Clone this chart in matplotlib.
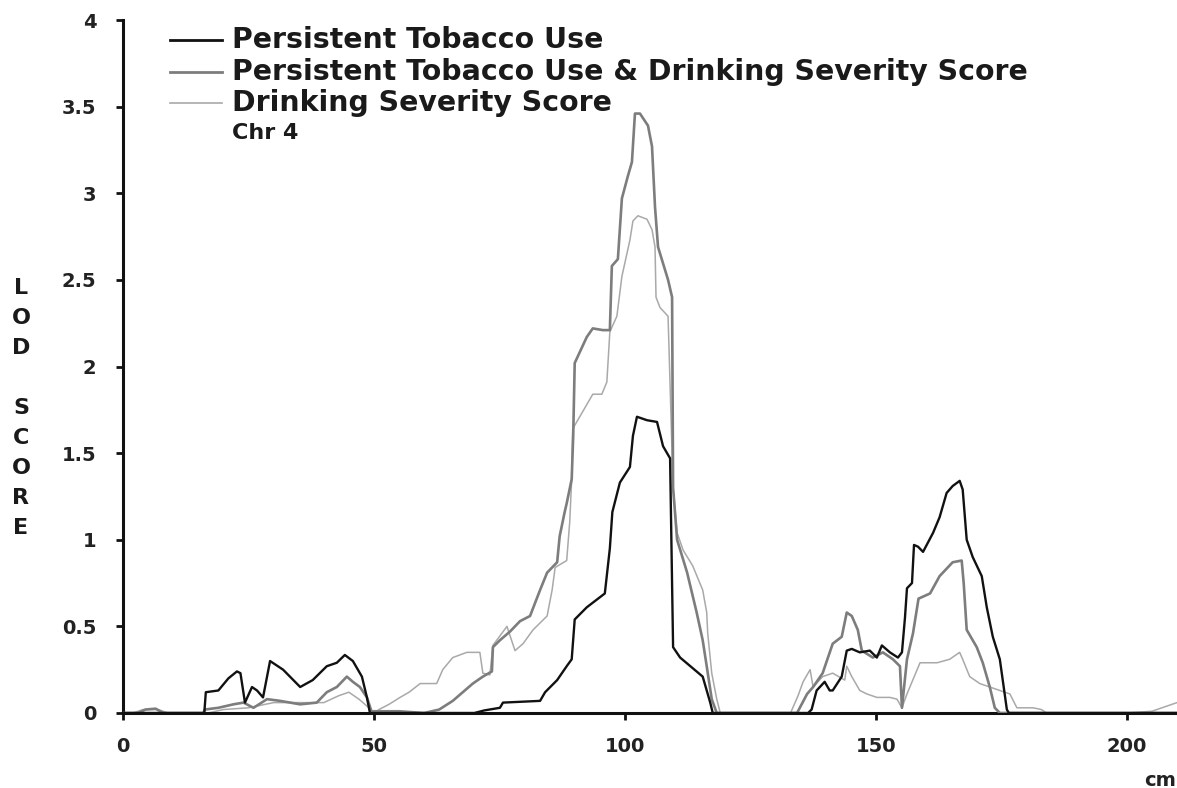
import matplotlib
matplotlib.use("Agg")
import matplotlib.pyplot as plt
from matplotlib.lines import Line2D

# LOD score profiles along chromosome 4 (position in cM)
ptu_x = [0, 16.2, 16.5, 19, 21, 22.7, 23.4, 24.3, 25.7, 26.7, 27.9, 29.3,
         31.9, 35.3, 37.8, 40.6, 42.6, 44.2, 45.8, 47.6, 48.6, 49.2,
         70, 72, 75.1, 75.7, 83.1, 84.1, 86.5, 88.4, 89.4, 90.0, 92.4,
         96.0, 97.0, 97.5, 99, 101, 101.6, 102.4, 104.4, 106.4, 107.6,
         109, 109.6, 111, 115.5, 117, 117.5,
         136.5, 137.2, 138.2, 139.8, 140.8, 141.4, 143.2, 144.2, 145.2,
         146.8, 148.8, 150.2, 151.2, 152.8, 154.4, 155.2, 155.8, 156.2,
         157.2, 157.6, 158.4, 159.4, 161.4, 162.7, 164.1, 165.3, 166.7,
         167.3, 168.1, 169.3, 171.1, 172.1, 173.3, 174.7, 176.1, 176.5, 210]
ptu_y = [0, 0, 0.12, 0.13, 0.2, 0.24, 0.23, 0.06, 0.15, 0.13, 0.09, 0.3,
         0.25, 0.15, 0.19, 0.27, 0.29, 0.335, 0.3, 0.21, 0.09, 0,
         0, 0.015, 0.03, 0.06, 0.07, 0.12, 0.19, 0.27, 0.31, 0.54, 0.61,
         0.69, 0.95, 1.16, 1.33, 1.42, 1.6, 1.71, 1.69, 1.68, 1.54,
         1.47, 0.38, 0.32, 0.21, 0.06, 0,
         0, 0.02, 0.13, 0.18, 0.13, 0.13, 0.21, 0.36, 0.37,
         0.35, 0.36, 0.32, 0.39, 0.35, 0.32, 0.35, 0.55, 0.72,
         0.75, 0.97, 0.96, 0.93, 1.04, 1.13, 1.27, 1.31, 1.34,
         1.29, 1.0, 0.9, 0.79, 0.61, 0.44, 0.31, 0.02, 0, 0]

both_x = [0, 3, 4.5, 6.5, 8, 16, 16.3, 19, 22, 24, 26, 28.7, 31.3, 35.3,
          38.6, 40.6, 42.6, 44.6, 45.8, 47.2, 48.6, 49.5, 55, 60, 63,
          65.7, 69.7, 71.7, 73.5, 73.7, 75.1, 77.1, 79.1, 81.1, 83.1, 84.5,
          86.5, 87, 88, 88.4, 89.4, 89.7, 90, 92.4, 93.6, 95.6, 97, 97.4,
          98.6, 99.4, 100.6, 101.4, 102, 103, 104.6, 105.4, 106, 106.6,
          108.6, 109.4, 109.6, 110.4, 112.4, 114.3, 115.5, 116.3, 117.3,
          118.3, 134.3, 136.3, 137.5, 139.4, 141.4, 143.2, 144.2, 145.2,
          146.4, 147.2, 149.4, 151.4, 153.4, 154.8, 155.2, 156.2, 157.4,
          158.5, 160.8, 162.7, 165.3, 167.1, 167.5, 168.1, 170.1, 171.3,
          172.7, 173.7, 174.7, 210]
both_y = [0, 0, 0.02, 0.025, 0, 0, 0.02, 0.03, 0.05, 0.06, 0.03, 0.08, 0.07, 0.05,
          0.06, 0.12, 0.15, 0.21, 0.18, 0.15, 0.09, 0.01, 0.01, 0.0, 0.02,
          0.07, 0.17, 0.21, 0.24, 0.38, 0.42, 0.47, 0.53, 0.56, 0.71, 0.81,
          0.87, 1.02, 1.16, 1.21, 1.35, 1.6, 2.02, 2.17, 2.22, 2.21, 2.21, 2.58,
          2.62, 2.97, 3.1, 3.18, 3.46, 3.46, 3.39, 3.27, 2.92, 2.69,
          2.5, 2.4, 1.3, 1.0, 0.81, 0.58, 0.42, 0.27, 0.08,
          0, 0, 0.11, 0.15, 0.23, 0.4, 0.44, 0.58, 0.56,
          0.48, 0.36, 0.32, 0.35, 0.31, 0.27, 0.03, 0.31, 0.46,
          0.66, 0.69, 0.79, 0.87, 0.88, 0.75, 0.48, 0.38, 0.29,
          0.15, 0.03, 0, 0]

dss_x = [0, 2, 4, 7, 9, 17, 20, 25, 30, 35, 40, 43, 45, 47, 49, 50, 51, 53,
         55.2, 57, 59.2, 62.5, 63.7, 65.7, 68.5, 71.1, 71.7, 73.1, 73.7,
         76.5, 78.1, 79.7, 81.7, 84.5, 85.5, 86.1, 88.4, 89, 89.4, 89.6,
         93, 93.6, 95.4, 96.4, 97, 98.4, 99.4, 101, 101.6, 102.6, 104.4,
         105.4, 106, 106.2, 107, 108.6, 109.6, 110.4, 111.6, 113.5, 115.5,
         116.3, 116.5, 117.3, 118.3, 119, 133, 134.5, 135.5, 136.9, 137.5,
         139.4, 141.4, 143.8, 144.2, 145.2, 146.8, 148.2, 150.2, 152.8,
         154.2, 155.2, 156.2, 157.5, 158.8, 162.2, 164.7, 166.7, 167.3,
         168.7, 170.7, 172.7, 174.7, 176.7, 178.1, 181.3, 183, 184, 200,
         205, 210]
dss_y = [0, 0, 0.02, 0.02, 0, 0, 0.02, 0.03, 0.06, 0.06, 0.06, 0.1, 0.12, 0.08, 0.03, 0, 0.02, 0.05,
         0.09, 0.12, 0.17, 0.17, 0.25, 0.32, 0.35, 0.35, 0.23, 0.22, 0.39,
         0.5, 0.36, 0.4, 0.48, 0.56, 0.71, 0.84, 0.88, 1.1, 1.35, 1.64,
         1.81, 1.84, 1.84, 1.91, 2.2, 2.29, 2.52, 2.73, 2.84, 2.87, 2.85,
         2.79, 2.69, 2.4, 2.34, 2.29, 1.3, 1.04, 0.94, 0.85, 0.71,
         0.58, 0.46, 0.23, 0.08, 0, 0, 0.1, 0.18, 0.25, 0.15,
         0.21, 0.23, 0.19, 0.27, 0.21, 0.13, 0.11, 0.09, 0.09,
         0.08, 0.03, 0.11, 0.2, 0.29, 0.29, 0.31, 0.35, 0.31,
         0.21, 0.17, 0.15, 0.13, 0.11, 0.03, 0.03, 0.02, 0, 0,
         0.01, 0.06]

series_labels = ["Persistent Tobacco Use",
                 "Persistent Tobacco Use & Drinking Severity Score",
                 "Drinking Severity Score"]
y_ticks = [0, 0.5, 1, 1.5, 2, 2.5, 3, 3.5, 4]
y_tick_labels = ["0", "0.5", "1", "1.5", "2", "2.5", "3", "3.5", "4"]
x_ticks = [0, 50, 100, 150, 200]

W, H = 1177, 788
BLACK = "#111111"
MID = "#7d7d7d"
LIGHT = "#a9a9a9"

fig = plt.figure(figsize=(W / 100, H / 100), dpi=100)
ax = fig.add_axes([123 / W, 1 - 713 / H, (W - 123) / W, (713 - 20) / H])

ax.plot(dss_x, dss_y, color=LIGHT, lw=1.1, zorder=2)
ax.plot(both_x, both_y, color=MID, lw=1.9, zorder=3)
ax.plot(ptu_x, ptu_y, color=BLACK, lw=1.7, zorder=4)

ax.set_xlim(0, 210)
ax.set_ylim(0, 4)
for side in ("top", "right"):
    ax.spines[side].set_visible(False)
for side in ("left", "bottom"):
    ax.spines[side].set_linewidth(2.2)
    ax.spines[side].set_color(BLACK)

ax.set_yticks(y_ticks)
ax.set_yticklabels(y_tick_labels)
ax.set_xticks(x_ticks)
ax.tick_params(axis="both", direction="out", length=5, width=2, color=BLACK,
               labelsize=14, labelcolor="#222222")
ax.tick_params(axis="y", pad=14)
ax.tick_params(axis="x", pad=12)
for lab in ax.get_xticklabels() + ax.get_yticklabels():
    lab.set_fontweight("bold")

fx = lambda px: px / W
fy = lambda py: 1 - py / H

# legend block drawn by hand in the upper left
legend_rows = [(40, BLACK, 2.0), (72, MID, 2.0), (103, LIGHT, 1.2)]
for (py, col, lw), label in zip(legend_rows, series_labels):
    fig.add_artist(Line2D([fx(170), fx(222)], [fy(py), fy(py)],
                          color=col, lw=lw, transform=fig.transFigure))
    fig.text(fx(232), fy(py), label, fontsize=20.4, fontweight="bold",
             va="center", ha="left", color="#1a1a1a")
fig.text(fx(232), fy(133), "Chr 4", fontsize=16, fontweight="bold",
         va="center", ha="left", color="#1a1a1a")

# stacked y-axis title
fig.text(fx(21), fy(408), "L\nO\nD\n\nS\nC\nO\nR\nE", fontsize=16,
         fontweight="bold", ha="center", va="center", linespacing=1.62,
         color="#1a1a1a")
fig.text(fx(1160), fy(780), "cm", fontsize=14, fontweight="bold",
         ha="center", va="center", color="#222222")

fig.savefig("out.png", dpi=100)
